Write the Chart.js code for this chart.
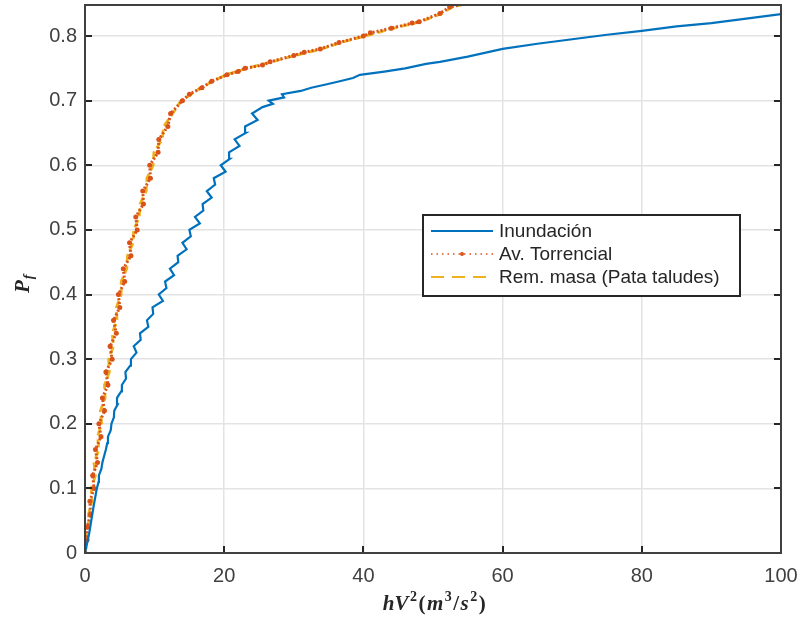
<!DOCTYPE html>
<html>
<head>
<meta charset="utf-8">
<script src="https://cdn.jsdelivr.net/npm/chart.js@4.4.0/dist/chart.umd.min.js"></script>
<style>
  html, body { margin: 0; padding: 0; background: #fff; }
  #wrap { width: 803px; height: 623px; }
</style>
</head>
<body>
<div id="wrap"><canvas id="myChart" width="803" height="623"></canvas></div>
<script>
// series data (x = hV^2, y = Pf)
const inundX = [0, 0.6, 1.2, 1.7, 1.95, 2.0, 2.35, 2.5, 2.75, 3.0, 3.2, 3.3, 3.7, 3.8, 4.15, 4.2, 4.7, 4.6, 5.2, 5.3, 5.9, 5.8, 6.5, 6.6, 7.4, 7.0, 8.0, 7.9, 9.1, 8.9, 9.8, 9.7, 11.2, 10.6, 11.7, 11.5, 12.8, 12.2, 13.4, 13.3, 14.6, 14.0, 15.2, 15.0, 16.5, 15.8, 17.0, 16.9, 18.2, 17.5, 18.7, 18.5, 20.2, 19.5, 20.8, 20.7, 22.2, 21.5, 23.1, 23.0, 24.8, 24.0, 25.5, 27.0, 26.4, 28.6, 28.3, 31.0, 32.5, 34.6, 36.6, 38.5, 39.5, 43, 46, 49, 51, 55, 60, 65, 70, 75, 80, 85, 90, 95, 100];
const inundY = [0, 0.03, 0.07, 0.10, 0.11, 0.12, 0.13, 0.14, 0.15, 0.16, 0.17, 0.18, 0.19, 0.20, 0.21, 0.22, 0.23, 0.24, 0.25, 0.26, 0.27, 0.28, 0.29, 0.30, 0.31, 0.32, 0.33, 0.34, 0.35, 0.36, 0.37, 0.38, 0.39, 0.40, 0.41, 0.42, 0.43, 0.44, 0.45, 0.46, 0.47, 0.48, 0.49, 0.50, 0.51, 0.52, 0.53, 0.54, 0.55, 0.56, 0.57, 0.58, 0.59, 0.60, 0.61, 0.62, 0.63, 0.64, 0.65, 0.66, 0.67, 0.68, 0.69, 0.695, 0.70, 0.705, 0.71, 0.715, 0.72, 0.725, 0.73, 0.735, 0.74, 0.745, 0.75, 0.757, 0.76, 0.768, 0.78, 0.788, 0.795, 0.802, 0.808, 0.815, 0.82, 0.827, 0.834];

const torrX = [0, 0.3, 0.3, 0.8, 0.7, 1.3, 1.1, 1.8, 1.5, 2.3, 2.0, 2.8, 2.5, 3.3, 3.0, 3.9, 3.6, 4.5, 4.1, 5.0, 4.8, 5.7, 5.5, 6.6, 6.4, 7.5, 7.3, 8.4, 8.3, 9.4, 9.3, 10.5, 10.6, 11.9, 12.3, 14.0, 15.0, 16.8, 18.2, 20.4, 22, 23, 25.5, 26.6, 30, 31.5, 33.8, 36.5, 40, 41, 44, 47, 48, 51, 52.4, 55.5];
const torrY = [0, 0.02, 0.04, 0.06, 0.08, 0.10, 0.12, 0.14, 0.16, 0.18, 0.20, 0.22, 0.24, 0.26, 0.28, 0.30, 0.32, 0.34, 0.36, 0.38, 0.40, 0.42, 0.44, 0.46, 0.48, 0.50, 0.52, 0.54, 0.56, 0.58, 0.60, 0.62, 0.64, 0.66, 0.68, 0.70, 0.71, 0.72, 0.73, 0.74, 0.745, 0.75, 0.755, 0.76, 0.77, 0.775, 0.78, 0.79, 0.80, 0.805, 0.812, 0.82, 0.822, 0.835, 0.845, 0.852];

const remX = [0, 0.1, 0.5, 0.5, 1.0, 0.9, 1.5, 1.3, 2.0, 1.8, 2.4, 2.2, 2.9, 2.8, 3.5, 3.4, 4.1, 3.9, 4.6, 4.5, 5.2, 5.2, 6.0, 6.1, 6.9, 7.0, 7.8, 7.9, 8.8, 8.9, 9.8, 9.9, 11.1, 11.3, 12.6, 13.8, 15.3, 16.6, 18.4, 20.2, 23.3, 26.8, 30.3, 34, 36.8, 40.3, 44.3, 48.2, 51.3, 52.8, 55.5];
const remY = [0, 0.02, 0.04, 0.06, 0.08, 0.10, 0.12, 0.14, 0.16, 0.18, 0.20, 0.22, 0.24, 0.26, 0.28, 0.30, 0.32, 0.34, 0.36, 0.38, 0.40, 0.42, 0.44, 0.46, 0.48, 0.50, 0.52, 0.54, 0.56, 0.58, 0.60, 0.62, 0.64, 0.66, 0.68, 0.70, 0.71, 0.72, 0.73, 0.74, 0.75, 0.76, 0.77, 0.78, 0.79, 0.80, 0.812, 0.822, 0.835, 0.845, 0.852];

const seriesNames = ['Inundación', 'Av. Torrencial', 'Rem. masa (Pata taludes)'];
const yTicks = [0, 0.1, 0.2, 0.3, 0.4, 0.5, 0.6, 0.7, 0.8];
const xTicks = [0, 20, 40, 60, 80, 100];

const BLUE = '#0072BD', ORANGE = '#D95319', YELLOW = '#EDB120';
const AXC = '#262626';
const SANS = '"Liberation Sans", Arial, sans-serif';
const SERIF = '"Liberation Serif", "Times New Roman", serif';

function pts(xs, ys) { return xs.map((x, i) => ({ x: x, y: ys[i] })); }

// frame, inward ticks, axis titles, legend
const matlabLook = {
  id: 'matlabLook',
  afterDatasetsDraw(chart) {
    const ctx = chart.ctx, a = chart.chartArea;
    const xs = chart.scales.x, ys = chart.scales.y;
    ctx.save();
    ctx.strokeStyle = AXC;
    ctx.lineWidth = 2;
    ctx.beginPath();
    xTicks.forEach(t => {
      const px = Math.round(xs.getPixelForValue(t));
      ctx.moveTo(px, a.bottom); ctx.lineTo(px, a.bottom - 7);
      ctx.moveTo(px, a.top); ctx.lineTo(px, a.top + 7);
    });
    yTicks.forEach(t => {
      const py = Math.round(ys.getPixelForValue(t));
      ctx.moveTo(a.left, py); ctx.lineTo(a.left + 7, py);
      ctx.moveTo(a.right, py); ctx.lineTo(a.right - 7, py);
    });
    ctx.stroke();
    ctx.strokeStyle = '#404040';
    ctx.lineWidth = 2;
    ctx.strokeRect(a.left, a.top, a.right - a.left, a.bottom - a.top);
    ctx.restore();
  },
  afterDraw(chart) {
    const ctx = chart.ctx, a = chart.chartArea;
    ctx.save();
    ctx.fillStyle = AXC;
    ctx.textBaseline = 'alphabetic';
    // x title: hV^2(m^3/s^2)
    const big = 'italic bold 21px ' + SERIF;
    const rom = 'bold 21px ' + SERIF;
    const supR = 'bold 14px ' + SERIF;
    const sub = 'italic bold 14px ' + SERIF;
    const parts = [
      [big, 'hV', 0], [supR, '2', -9], [rom, '(', 0], [big, 'm', 0], [supR, '3', -9],
      [rom, '/', 0], [big, 's', 0], [supR, '2', -9], [rom, ')', 0]
    ];
    let w = 0;
    parts.forEach(p => { ctx.font = p[0]; w += ctx.measureText(p[1]).width + 1.5; });
    let x = 435 - w / 2;
    parts.forEach(p => {
      ctx.font = p[0];
      ctx.fillText(p[1], x, 610 + p[2]);
      x += ctx.measureText(p[1]).width + 1.5;
    });
    // y title: P_f
    ctx.translate(29, 293);
    ctx.rotate(-Math.PI / 2);
    ctx.font = big;
    ctx.fillText('P', 0, 0);
    const pw = ctx.measureText('P').width;
    ctx.font = sub;
    ctx.fillText('f', pw + 1, 4);
    ctx.restore();

    // legend
    ctx.save();
    const L = 423, T = 215, W = 317, H = 81;
    ctx.fillStyle = '#fff';
    ctx.fillRect(L, T, W, H);
    ctx.strokeStyle = AXC;
    ctx.lineWidth = 2;
    ctx.strokeRect(L, T, W, H);
    ctx.font = '19px ' + SANS;
    ctx.textBaseline = 'middle';
    const rows = [T + 16, T + 39, T + 62];
    const styles = [
      { c: BLUE, d: [], w: 2 },
      { c: ORANGE, d: [1.5, 4], w: 1.5, dot: true },
      { c: YELLOW, d: [13, 8], w: 2 }
    ];
    rows.forEach((ry, i) => {
      const s = styles[i];
      ctx.strokeStyle = s.c;
      ctx.lineWidth = s.w;
      ctx.setLineDash(s.d);
      ctx.beginPath();
      ctx.moveTo(L + 8, ry); ctx.lineTo(L + 70, ry);
      ctx.stroke();
      ctx.setLineDash([]);
      if (s.dot) {
        ctx.fillStyle = ORANGE;
        ctx.beginPath(); ctx.arc(L + 39, ry, 2, 0, Math.PI * 2); ctx.fill();
      }
      ctx.fillStyle = AXC;
      ctx.fillText(seriesNames[i], L + 76, ry + 1);
    });
    ctx.restore();
  }
};

const data = {
  datasets: [
    {
      label: seriesNames[0],
      data: pts(inundX, inundY),
      borderColor: BLUE,
      borderWidth: 2.2,
      pointRadius: 0,
      tension: 0
    },
    {
      label: seriesNames[1],
      data: pts(torrX, torrY),
      borderColor: ORANGE,
      borderWidth: 3,
      borderDash: [2, 2],
      pointRadius: 2.5,
      pointBackgroundColor: ORANGE,
      pointBorderWidth: 0,
      tension: 0
    },
    {
      label: seriesNames[2],
      data: pts(remX, remY),
      borderColor: YELLOW,
      borderWidth: 2.8,
      borderDash: [8, 4],
      pointRadius: 0,
      tension: 0
    }
  ]
};

const config = {
  type: 'line',
  data,
  options: {
    responsive: false,
    animation: false,
    layout: { padding: { top: 5, right: 22, left: 0, bottom: 0 } },
    plugins: { legend: { display: false }, tooltip: { enabled: false } },
    scales: {
      x: {
        type: 'linear',
        min: 0, max: 100,
        afterFit: s => { s.height = 70; s.paddingLeft = 0; s.paddingRight = 0; },
        afterBuildTicks: s => { s.ticks = xTicks.map(v => ({ value: v })); },
        grid: { color: '#e3e3e3', lineWidth: 1.5, drawTicks: false },
        border: { display: false },
        ticks: {
          padding: 11,
          color: '#404040',
          maxRotation: 0,
          font: { family: SANS, size: 20 },
          callback: v => String(v)
        }
      },
      y: {
        type: 'linear',
        min: 0, max: 0.848,
        afterFit: s => { s.width = 85; s.paddingTop = 0; s.paddingBottom = 0; },
        afterBuildTicks: s => { s.ticks = yTicks.map(v => ({ value: v })); },
        grid: { color: '#e3e3e3', lineWidth: 1.5, drawTicks: false },
        border: { display: false },
        ticks: {
          padding: 8,
          color: '#404040',
          font: { family: SANS, size: 20 },
          callback: v => String(+v.toFixed(1))
        }
      }
    }
  },
  plugins: [matlabLook]
};

const myChart = new Chart(document.getElementById('myChart'), config);
</script>
</body>
</html>
